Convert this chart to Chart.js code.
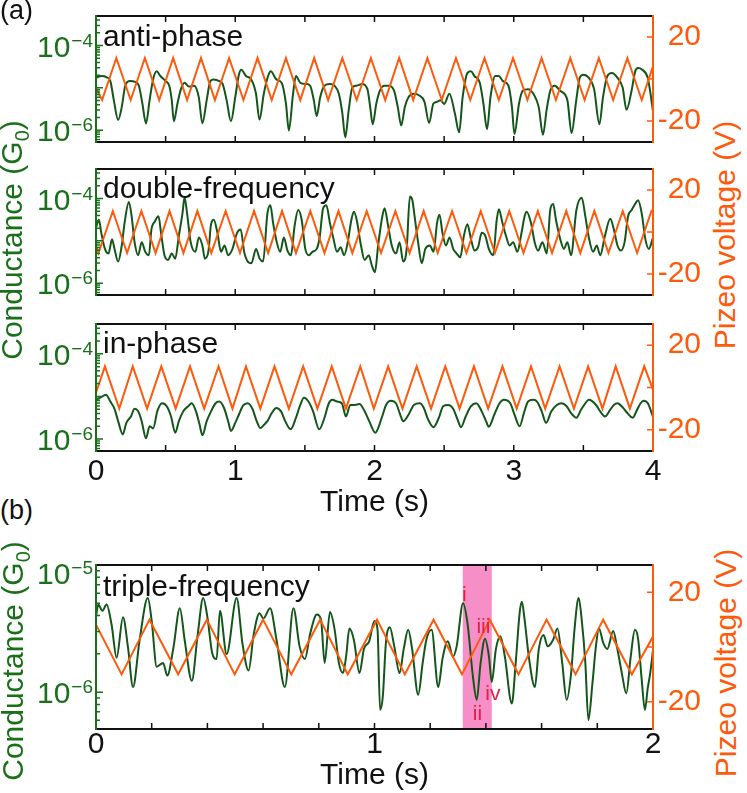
<!DOCTYPE html>
<html>
<head>
<meta charset="utf-8">
<script src="https://cdn.jsdelivr.net/npm/chart.js@4.4.0/dist/chart.umd.min.js"></script>
<style>
  body { margin: 0; background: #fff; width: 747px; height: 793px; position: relative; overflow: hidden;
         font-family: 'Liberation Sans', Arial, sans-serif; color: #111; }
  canvas { position: absolute; left: 0; }
  .lbl { position: absolute; font-size: 30px; line-height: 30px; white-space: nowrap; }
  .rot { transform: translate(-50%, -50%) rotate(-90deg); }
  .sub { font-size: 20px; position: relative; top: 7px; }
</style>
</head>
<body>
<canvas id="anti" width="701" height="170" style="top:-6px"></canvas>
<canvas id="double" width="701" height="170" style="top:147px"></canvas>
<canvas id="inphase" width="701" height="189" style="top:302px"></canvas>
<canvas id="triple" width="701" height="226" style="top:543px"></canvas>

<div class="lbl" style="left:0;top:-3px;font-size:27px;line-height:27px">(a)</div>
<div class="lbl" style="left:0;top:497px;font-size:27px;line-height:27px">(b)</div>
<div class="lbl" style="left:96px;width:557px;text-align:center;top:486px">Time (s)</div>
<div class="lbl" style="left:96px;width:557px;text-align:center;top:759px">Time (s)</div>
<div class="lbl rot" style="left:13px;top:240px;color:#1a701a">Conductance (G<span class="sub">0</span>)</div>
<div class="lbl rot" style="left:14px;top:661px;color:#1a701a">Conductance (G<span class="sub">0</span>)</div>
<div class="lbl rot" style="left:725px;top:235px;color:#fe5a0c">Pizeo voltage (V)</div>
<div class="lbl rot" style="left:726px;top:663px;color:#fe5a0c">Pizeo voltage (V)</div>

<script>
// ---- data: time (s), log10 of conductance (G0), piezo voltage (V) ----
const antiT = [0,0.038,0.077,0.103,0.128,0.159,0.185,0.210,0.244,0.282,
  0.308,0.333,0.359,0.385,0.410,0.436,0.462,0.500,0.526,0.544,
  0.559,0.585,0.610,0.636,0.667,0.705,0.738,0.764,0.795,0.821,
  0.846,0.885,0.910,0.938,0.969,1.000,1.026,1.044,1.077,1.115,
  1.149,1.174,1.205,1.236,1.256,1.295,1.333,1.364,1.385,1.415,
  1.436,1.467,1.513,1.538,1.564,1.585,1.610,1.641,1.679,1.713,
  1.744,1.769,1.790,1.815,1.841,1.872,1.910,1.949,1.969,1.987,
  2.013,2.038,2.072,2.103,2.141,2.167,2.192,2.218,2.244,2.282,
  2.321,2.359,2.392,2.423,2.449,2.474,2.500,2.538,2.577,2.608,
  2.633,2.667,2.692,2.718,2.756,2.782,2.808,2.833,2.867,2.892,
  2.923,2.962,2.987,3.005,3.038,3.064,3.103,3.141,3.179,3.210,
  3.236,3.262,3.295,3.333,3.385,3.415,3.449,3.474,3.500,3.538,
  3.577,3.615,3.641,3.672,3.705,3.744,3.782,3.810,3.846,3.872,
  3.892,3.923,3.962,3.979,4.000];
const antiLogG = [-4.76,-4.72,-4.75,-4.84,-5.29,-5.76,-5.45,-4.95,-4.84,-4.86,
  -4.95,-5.37,-5.84,-5.29,-4.80,-4.61,-4.72,-4.84,-4.95,-5.29,
  -5.79,-5.37,-5.03,-4.88,-4.97,-4.95,-5.22,-5.84,-5.29,-4.84,
  -4.80,-4.84,-4.91,-5.29,-5.79,-5.22,-4.69,-4.57,-4.72,-4.80,
  -5.14,-5.75,-5.14,-4.72,-4.61,-4.80,-4.88,-5.37,-6.01,-5.14,
  -4.72,-4.88,-4.91,-4.95,-5.29,-5.67,-5.22,-4.95,-4.91,-4.95,
  -5.14,-5.60,-6.17,-5.52,-4.99,-4.95,-4.91,-5.03,-5.45,-5.86,
  -5.37,-5.07,-4.95,-4.95,-5.07,-5.45,-5.89,-5.45,-5.22,-5.14,
  -5.18,-5.33,-5.83,-5.37,-5.33,-5.29,-5.38,-5.14,-5.60,-6.05,
  -5.22,-4.65,-4.61,-4.72,-4.88,-5.37,-5.98,-5.22,-4.72,-4.72,
  -4.84,-4.95,-5.45,-6.09,-5.37,-5.07,-5.03,-5.14,-5.45,-6.11,
  -5.52,-5.07,-4.95,-5.07,-5.29,-6.07,-5.29,-4.76,-4.69,-4.76,
  -5.03,-5.86,-5.22,-4.72,-4.65,-4.76,-4.99,-5.52,-5.07,-4.61,
  -4.53,-4.57,-4.76,-5.07,-5.56];
const antiPiezoT = [0,0.044,0.146,0.249,0.351,0.454,0.554,0.654,0.754,0.854,0.956,
  1.059,1.160,1.262,1.364,1.467,1.567,1.667,1.769,1.872,1.974,2.077,2.177,2.278,2.380,
  2.483,2.585,2.688,2.790,2.893,2.995,3.098,3.200,3.303,3.406,3.509,3.611,3.714,3.816,3.919,4.0];
const antiPiezoV = [-4.3,-10,10,-10,10,-10,10,-10,10,-10,10,-10,10,-10,10,-10,10,-10,10,-10,
  10,-10,10,-10,10,-10,10,-10,10,-10,10,-10,10,-10,10,-10,10,-10,10,-10,6];

const doubleT = [0.000,0.021,0.038,0.064,0.090,0.115,0.133,0.159,0.185,0.205,
  0.236,0.256,0.277,0.303,0.328,0.354,0.380,0.398,0.423,0.449,
  0.467,0.492,0.518,0.544,0.569,0.595,0.621,0.636,0.654,0.680,
  0.713,0.739,0.764,0.782,0.808,0.826,0.846,0.872,0.898,0.923,
  0.949,0.980,1.013,1.039,1.064,1.090,1.116,1.149,1.175,1.200,
  1.231,1.252,1.272,1.298,1.323,1.349,1.375,1.400,1.426,1.452,
  1.477,1.503,1.529,1.554,1.585,1.606,1.631,1.654,1.680,1.706,
  1.731,1.757,1.782,1.808,1.834,1.852,1.872,1.903,1.929,1.959,
  1.980,2.003,2.026,2.052,2.072,2.098,2.124,2.154,2.180,2.206,
  2.231,2.254,2.272,2.288,2.313,2.339,2.365,2.398,2.424,2.449,
  2.467,2.488,2.513,2.539,2.565,2.590,2.616,2.642,2.667,2.693,
  2.719,2.744,2.770,2.796,2.821,2.852,2.878,2.893,2.919,2.944,
  2.970,2.996,3.026,3.052,3.078,3.093,3.124,3.150,3.175,3.206,
  3.237,3.262,3.283,3.303,3.334,3.360,3.385,3.411,3.450,3.488,
  3.514,3.539,3.570,3.596,3.621,3.655,3.693,3.719,3.745,3.770,
  3.796,3.821,3.847,3.873,3.893,3.919,3.945,3.970,4.000];
const doubleLogG = [-4.69,-4.50,-4.81,-5.19,-5.30,-4.96,-5.19,-5.49,-5.11,-4.58,
  -4.08,-4.42,-5.03,-5.34,-5.03,-5.26,-5.34,-4.73,-4.54,-4.42,
  -4.81,-5.34,-5.45,-5.30,-5.42,-4.88,-4.35,-3.97,-4.35,-5.03,
  -5.26,-4.92,-5.11,-5.42,-5.23,-4.61,-4.50,-4.81,-5.26,-5.11,
  -5.34,-5.19,-4.81,-4.73,-5.26,-5.49,-5.53,-5.19,-5.42,-5.49,
  -4.35,-4.16,-4.58,-5.03,-5.26,-4.92,-5.23,-5.34,-4.65,-4.27,
  -4.50,-5.19,-5.34,-5.26,-5.19,-4.92,-4.23,-4.16,-4.58,-4.96,
  -5.26,-5.15,-5.34,-5.03,-4.50,-4.31,-4.50,-5.11,-5.45,-5.34,
  -5.57,-5.74,-5.11,-4.50,-4.23,-4.65,-5.11,-5.30,-5.03,-5.49,
  -5.19,-3.95,-4.04,-4.42,-5.03,-5.53,-5.19,-5.11,-5.26,-4.58,
  -4.38,-4.81,-5.11,-4.92,-5.19,-5.30,-5.39,-4.88,-4.61,-4.96,
  -5.23,-5.15,-4.81,-4.88,-5.19,-5.34,-4.50,-4.25,-4.58,-4.88,
  -5.11,-5.03,-5.26,-4.88,-4.42,-4.31,-4.58,-5.03,-5.23,-5.03,
  -5.30,-4.27,-4.13,-4.50,-4.96,-5.19,-5.03,-5.34,-4.27,-3.98,
  -4.42,-4.92,-5.26,-5.11,-5.34,-4.88,-4.48,-4.73,-5.11,-5.23,
  -5.03,-4.42,-4.27,-4.12,-4.04,-4.35,-4.96,-5.19,-4.92];
const doublePiezoT = [0,0.018,0.121,0.223,0.326,0.428,0.528,0.628,0.728,0.828,0.931,
  1.034,1.135,1.236,1.336,1.436,1.539,1.641,1.741,1.841,1.944,2.047,2.150,2.252,2.353,
  2.454,2.557,2.660,2.763,2.865,2.968,3.070,3.173,3.275,3.377,3.478,3.579,3.680,3.783,
  3.886,3.989,4.0];
const doublePiezoV = [-6.5,-10,10,-10,10,-10,10,-10,10,-10,10,-10,10,-10,10,-10,10,-10,10,-10,
  10,-10,10,-10,10,-10,10,-10,10,-10,10,-10,10,-10,10,-10,10,-10,10,-10,10,9.6];

const inT = [0.000,0.031,0.072,0.103,0.133,0.159,0.192,0.218,0.251,0.277,
  0.303,0.328,0.359,0.385,0.410,0.441,0.474,0.508,0.539,0.569,
  0.595,0.628,0.662,0.687,0.718,0.744,0.764,0.795,0.826,0.859,
  0.885,0.918,0.949,0.969,1.000,1.026,1.057,1.090,1.123,1.154,
  1.180,1.205,1.231,1.262,1.295,1.329,1.359,1.398,1.436,1.467,
  1.493,1.526,1.559,1.603,1.641,1.672,1.698,1.731,1.765,1.795,
  1.826,1.859,1.893,1.929,1.962,2.006,2.052,2.083,2.116,2.154,
  2.185,2.206,2.244,2.283,2.326,2.354,2.385,2.424,2.462,2.493,
  2.529,2.565,2.596,2.621,2.655,2.693,2.731,2.770,2.801,2.821,
  2.860,2.898,2.929,2.975,3.006,3.042,3.073,3.103,3.139,3.167,
  3.201,3.232,3.270,3.309,3.344,3.380,3.411,3.450,3.483,3.514,
  3.539,3.591,3.621,3.655,3.693,3.719,3.745,3.783,3.816,3.855,
  3.886,3.911,3.932,3.963,4.000];
const inLogG = [-5.08,-5.03,-4.96,-5.12,-5.29,-5.58,-5.89,-5.62,-5.47,-5.29,
  -5.35,-5.58,-5.98,-5.70,-5.75,-5.34,-5.16,-5.23,-5.47,-5.85,
  -5.58,-5.34,-5.23,-5.16,-5.35,-5.66,-5.91,-5.58,-5.35,-5.16,
  -5.12,-5.26,-5.58,-5.81,-5.62,-5.43,-5.21,-5.16,-5.29,-5.58,
  -5.74,-5.67,-5.58,-5.39,-5.27,-5.35,-5.58,-5.77,-5.50,-5.20,
  -5.03,-5.12,-5.35,-5.77,-5.50,-5.16,-5.08,-5.12,-5.16,-5.47,
  -5.20,-5.20,-5.18,-5.35,-5.58,-5.85,-5.50,-5.20,-5.10,-5.16,
  -5.43,-5.58,-5.43,-5.20,-5.16,-5.27,-5.54,-5.72,-5.50,-5.23,
  -5.20,-5.29,-5.54,-5.72,-5.47,-5.23,-5.16,-5.35,-5.58,-5.71,
  -5.43,-5.16,-5.08,-5.16,-5.43,-5.70,-5.39,-5.12,-5.08,-5.12,
  -5.35,-5.62,-5.35,-5.20,-5.16,-5.23,-5.39,-5.50,-5.31,-5.16,
  -5.08,-5.20,-5.35,-5.47,-5.31,-5.20,-5.16,-5.26,-5.39,-5.50,
  -5.31,-5.16,-5.10,-5.16,-5.48];
const inPiezoT = [0,0.064,0.167,0.264,0.367,0.469,0.572,0.675,0.777,0.880,0.980,
  1.077,1.180,1.282,1.385,1.488,1.590,1.693,1.795,1.898,1.995,2.098,2.201,2.303,2.406,
  2.508,2.611,2.714,2.816,2.919,3.021,3.124,3.226,3.329,3.432,3.534,3.637,3.732,3.834,3.937,4.0];
const inPiezoV = [-2.5,10,-10,10,-10,10,-10,10,-10,10,-10,10,-10,10,-10,10,-10,10,-10,10,
  -10,10,-10,10,-10,10,-10,10,-10,10,-10,10,-10,10,-10,10,-10,10,-10,10,-1];

const tripleT = [0.000,0.008,0.023,0.038,0.056,0.074,0.097,0.115,0.133,0.156,
  0.186,0.200,0.218,0.241,0.256,0.278,0.301,0.319,0.344,0.365,
  0.385,0.400,0.417,0.433,0.445,0.469,0.505,0.526,0.548,0.566,
  0.587,0.601,0.625,0.649,0.678,0.709,0.731,0.750,0.769,0.793,
  0.808,0.821,0.840,0.857,0.872,0.887,0.898,0.910,0.926,0.946,
  0.962,0.981,1.000,1.011,1.020,1.030,1.041,1.055,1.071,1.090,
  1.105,1.121,1.135,1.157,1.173,1.186,1.205,1.229,1.244,1.263,
  1.282,1.295,1.318,1.334,1.353,1.367,1.381,1.397,1.411,1.421,
  1.436,1.452,1.468,1.493,1.507,1.521,1.529,1.539,1.554,1.576,
  1.590,1.607,1.622,1.641,1.657,1.674,1.690,1.706,1.718,1.733,
  1.744,1.757,1.768,1.783,1.795,1.806,1.821,1.836,1.857,1.872,
  1.888,1.904,1.920,1.935,1.947,1.959,1.971,1.981,1.990,2.000];
const tripleLogG = [-5.41,-5.31,-5.36,-5.31,-5.47,-5.73,-5.41,-5.65,-5.96,-5.60,
  -5.26,-5.44,-5.80,-5.77,-5.87,-5.65,-5.34,-5.60,-5.91,-5.55,
  -5.26,-5.41,-5.69,-5.74,-5.36,-5.70,-5.26,-5.62,-5.83,-5.55,
  -5.38,-5.42,-5.34,-5.60,-5.96,-5.34,-5.64,-5.74,-5.54,-5.39,
  -5.43,-5.77,-5.37,-5.51,-5.77,-5.85,-5.72,-5.50,-5.59,-5.85,
  -5.66,-5.60,-5.44,-5.51,-6.14,-6.03,-5.61,-5.49,-5.64,-5.85,
  -5.66,-5.51,-5.66,-6.02,-5.77,-5.59,-5.51,-5.96,-5.74,-5.60,
  -5.72,-5.64,-5.30,-5.46,-5.87,-6.06,-5.77,-5.58,-5.72,-5.92,
  -5.66,-5.56,-5.72,-6.09,-5.77,-5.38,-5.29,-5.43,-5.72,-5.96,
  -5.66,-5.55,-5.64,-5.59,-5.50,-5.77,-6.06,-5.85,-5.51,-5.26,
  -5.43,-5.77,-6.22,-5.92,-5.64,-5.50,-5.61,-5.66,-5.52,-5.66,
  -5.85,-6.01,-5.72,-5.51,-5.59,-5.89,-6.14,-5.97,-5.85,-5.67];
const triplePiezoT = [0,0.092,0.192,0.295,0.398,0.498,0.600,0.701,0.805,0.904,1.009,
  1.109,1.212,1.314,1.414,1.517,1.618,1.722,1.821,1.924,2.0];
const triplePiezoV = [8.2,-10,10,-10,10,-10,10,-10,10,-10,10,-10,10,-10,10,-10,10,-10,10,-10,3.8];

// highlighted window and its markers in (b)
const bandT = [1.317, 1.421];
const markText = ['i', 'ii', 'iii', 'iv'];
const markT = [1.314, 1.353, 1.366, 1.398];
const markLogG = [-5.28, -6.22, -5.535, -6.06];

// axis ranges and tick labels
const piezoTicks = [-20, 0, 20];
const condRangeA = [5.25e-7, 5.0e-4];
const condRangeB = [5.13e-7, 1e-5];
const decadesA = [-4, -6];
const decadesB = [-5, -6];

// ---- styles ----
const FONT = "'Liberation Sans', Arial, sans-serif";
const GREEN = '#14561a';
const GREEN_AXIS = '#1a701a';
const ORANGE = '#fe5a0c';
const PINK = 'rgb(246,142,200)';
const RED = '#e3203f';

Chart.defaults.font.family = FONT;
Chart.defaults.color = '#111';

const framePlugin = {
    id: 'frame',
    beforeDatasetsDraw(chart, args, o) {
        if (!o.band) return;
        const { ctx, chartArea: a, scales: { x } } = chart;
        const x0 = x.getPixelForValue(o.band[0]);
        const x1 = x.getPixelForValue(o.band[1]);
        ctx.save();
        ctx.fillStyle = PINK;
        ctx.fillRect(x0, a.top, x1 - x0, a.bottom - a.top);
        ctx.restore();
    },
    afterDatasetsDraw(chart, args, o) {
        const { ctx, chartArea: a, scales: { x, g, v } } = chart;
        ctx.save();
        ctx.lineWidth = 1.5;

        // inward time ticks, top and bottom
        ctx.strokeStyle = '#111';
        ctx.beginPath();
        for (const t of x.ticks) {
            const px = x.getPixelForValue(t.value);
            ctx.moveTo(px, a.top); ctx.lineTo(px, a.top + 6);
            ctx.moveTo(px, a.bottom); ctx.lineTo(px, a.bottom - 6);
        }
        ctx.stroke();

        // log ticks on the conductance axis
        ctx.strokeStyle = GREEN_AXIS;
        ctx.beginPath();
        for (let d = Math.floor(Math.log10(g.min)); d <= Math.ceil(Math.log10(g.max)); d++) {
            for (let m = 1; m <= 9; m++) {
                const val = m * Math.pow(10, d);
                if (val < g.min * 0.999 || val > g.max * 1.001) continue;
                const py = g.getPixelForValue(val);
                ctx.moveTo(a.left, py);
                ctx.lineTo(a.left + (m === 1 ? 7 : 4), py);
            }
        }
        ctx.stroke();

        // voltage ticks
        ctx.strokeStyle = ORANGE;
        ctx.beginPath();
        for (const t of v.ticks) {
            const py = v.getPixelForValue(t.value);
            ctx.moveTo(a.right, py); ctx.lineTo(a.right - 6, py);
        }
        ctx.stroke();

        // frame
        ctx.lineWidth = 2;
        ctx.strokeStyle = '#111';
        ctx.beginPath();
        ctx.moveTo(a.left, a.top); ctx.lineTo(a.right, a.top);
        ctx.moveTo(a.left, a.bottom); ctx.lineTo(a.right, a.bottom);
        ctx.stroke();
        ctx.strokeStyle = GREEN_AXIS;
        ctx.beginPath(); ctx.moveTo(a.left, a.top - 1); ctx.lineTo(a.left, a.bottom + 1); ctx.stroke();
        ctx.strokeStyle = ORANGE;
        ctx.beginPath(); ctx.moveTo(a.right, a.top - 1); ctx.lineTo(a.right, a.bottom + 1); ctx.stroke();

        // decade labels 10^n
        ctx.fillStyle = GREEN_AXIS;
        ctx.textAlign = 'right';
        ctx.textBaseline = 'alphabetic';
        for (const e of o.decades) {
            const py = g.getPixelForValue(Math.pow(10, e));
            const shift = py - a.top < 10 ? 8 : 0;
            ctx.font = '19px ' + FONT;
            const sup = '\u2212' + Math.abs(e);
            ctx.fillText(sup, 93, py + 1 + shift);
            const w = ctx.measureText(sup).width;
            ctx.font = '30px ' + FONT;
            ctx.fillText('10', 93 - w - 1, py + 11 + shift);
        }

        // panel name
        ctx.fillStyle = '#111';
        ctx.textAlign = 'left';
        ctx.font = '30px ' + FONT;
        ctx.fillText(o.title, a.left + 7, a.top + o.titleDy);

        // markers
        if (o.marks) {
            ctx.fillStyle = RED;
            ctx.font = '21px ' + FONT;
            o.marks.text.forEach((s, i) => {
                ctx.fillText(s, x.getPixelForValue(o.marks.t[i]), g.getPixelForValue(Math.pow(10, o.marks.logG[i])));
            });
        }
        ctx.restore();
    }
};

function makePanel(id, p) {
    return new Chart(document.getElementById(id), {
        type: 'line',
        data: {
            datasets: [
                {
                    data: p.piezoT.map((t, i) => ({ x: t, y: p.piezoV[i] })),
                    yAxisID: 'v', borderColor: ORANGE, borderWidth: 2, pointRadius: 0
                },
                {
                    data: p.condT.map((t, i) => ({ x: t, y: Math.pow(10, p.condLog[i]) })),
                    yAxisID: 'g', borderColor: GREEN, borderWidth: 2, pointRadius: 0,
                    cubicInterpolationMode: 'monotone'
                }
            ]
        },
        options: {
            responsive: false,
            animation: false,
            devicePixelRatio: 1,
            events: [],
            layout: { padding: { top: 20, left: 0, right: 0, bottom: 0 } },
            plugins: {
                legend: { display: false },
                tooltip: { enabled: false },
                frame: {
                    title: p.title, titleDy: p.titleDy, decades: p.decades,
                    band: p.band, marks: p.marks
                }
            },
            scales: {
                x: {
                    type: 'linear', min: 0, max: p.xMax,
                    grid: { display: false, drawTicks: false }, border: { display: false },
                    ticks: {
                        display: p.xLabels, stepSize: p.xStep, autoSkip: false, maxRotation: 0,
                        padding: p.xPad, color: '#111', font: { size: 30 },
                        callback: val => Math.abs(val - Math.round(val)) < 1e-6 ? String(Math.round(val)) : ''
                    },
                    afterFit: s => { s.height = p.xLabels ? 40 : 20; }
                },
                g: {
                    type: 'logarithmic', position: 'left', min: p.gRange[0], max: p.gRange[1],
                    grid: { display: false, drawTicks: false }, border: { display: false },
                    ticks: { display: false },
                    afterFit: s => { s.width = 96; }
                },
                v: {
                    type: 'linear', position: 'right', min: -30, max: 30,
                    grid: { display: false, drawTicks: false }, border: { display: false },
                    afterBuildTicks: s => { s.ticks = piezoTicks.map(value => ({ value })); },
                    ticks: {
                        color: ORANGE, font: { size: 30 }, padding: 4, crossAlign: 'far',
                        callback: val => val === 0 ? '' : String(val)
                    },
                    afterFit: s => { s.width = 48; }
                }
            }
        },
        plugins: [framePlugin]
    });
}

makePanel('anti', {
    condT: antiT, condLog: antiLogG, piezoT: antiPiezoT, piezoV: antiPiezoV,
    title: 'anti-phase', titleDy: 30, decades: decadesA, gRange: condRangeA,
    xMax: 4, xStep: 0.5, xLabels: false, xPad: 0
});
makePanel('double', {
    condT: doubleT, condLog: doubleLogG, piezoT: doublePiezoT, piezoV: doublePiezoV,
    title: 'double-frequency', titleDy: 29, decades: decadesA, gRange: condRangeA,
    xMax: 4, xStep: 0.5, xLabels: false, xPad: 0
});
makePanel('inphase', {
    condT: inT, condLog: inLogG, piezoT: inPiezoT, piezoV: inPiezoV,
    title: 'in-phase', titleDy: 29, decades: decadesA, gRange: condRangeA,
    xMax: 4, xStep: 0.5, xLabels: true, xPad: 3
});
makePanel('triple', {
    condT: tripleT, condLog: tripleLogG, piezoT: triplePiezoT, piezoV: triplePiezoV,
    title: 'triple-frequency', titleDy: 31, decades: decadesB, gRange: condRangeB,
    xMax: 2, xStep: 0.2, xLabels: true, xPad: -2,
    band: bandT, marks: { text: markText, t: markT, logG: markLogG }
});
</script>
</body>
</html>
